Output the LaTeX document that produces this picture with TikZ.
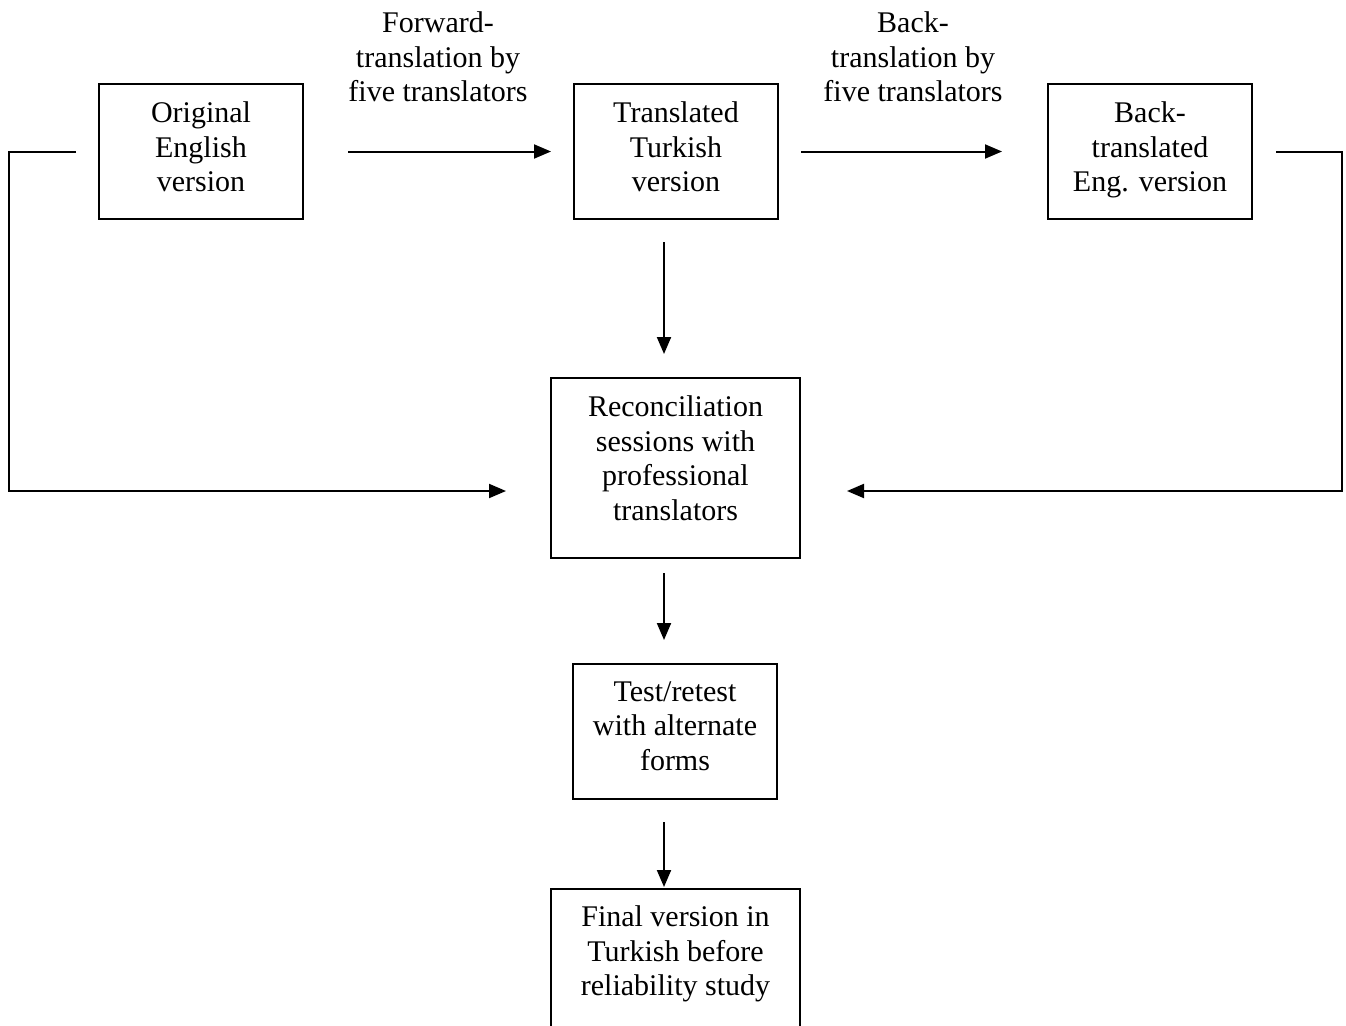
\documentclass[tikz,border=0pt]{standalone}
\usepackage{fontspec}
\setmainfont{Liberation Serif}
\usetikzlibrary{arrows.meta}
\begin{document}
\begin{tikzpicture}[x=1pt,y=-1pt,
  box/.style={draw,line width=2pt,minimum width=204pt,minimum height=135pt,inner sep=0pt},
  widebox/.style={box,minimum width=249pt},
  txt/.style={align=center,font=\fontsize{30}{34.5}\selectfont,inner sep=0pt},
  arr/.style={line width=2pt,-{Triangle[length=17pt,width=14pt]}},
  plain/.style={line width=2pt}]
\clip (0,0) rectangle (1346,1025);
\fill[white] (0,0) rectangle (1346,1025);
% boxes
\node[box] (orig) at (201,151.5) {};
\node[box] (tt) at (676,151.5) {};
\node[box] (bt) at (1150,151.5) {};
\node[widebox,minimum height=180pt] (rec) at (675.5,468) {};
\node[box] (test) at (675,731.5) {};
\node[widebox,minimum height=180pt] (fin) at (675.5,979) {};
% texts
\node[txt] (origt) at (201,147) {Original\\English\\version};
\node[txt] (ttt) at (676,147) {Translated\\Turkish\\version};
\node[txt] (btt) at (1150,150) {Back-\\translated\\Eng. version};
\node[txt] (rect) at (675.5,458) {Reconciliation\\sessions with\\professional\\translators};
\node[txt] (testt) at (675,726) {Test/retest\\with alternate\\forms};
\node[txt] (fint) at (675.5,954) {Final version in\\Turkish before\\reliability study};
\node[txt] (fwd) at (438,57) {Forward-\\translation by\\five translators};
\node[txt] (bck) at (913,57) {Back-\\translation by\\five translators};
% horizontal arrows
\draw[arr,shorten <=44pt,shorten >=22pt] (orig.east) -- (tt.west);
\draw[arr,shorten <=22pt,shorten >=45pt] (tt.east) -- (bt.west);
% loops
\coordinate (l1) at (9,151.5);
\coordinate (l2) at (9,491);
\coordinate (r1) at (1342,151.5);
\coordinate (r2) at (1342,491);
\draw[arr,shorten >=44pt] ([xshift=-22pt]orig.west) -- (l1) -- (l2) -- (rec.west |- l2);
\draw[arr,shorten >=46pt] ([xshift=23pt]bt.east) -- (r1) -- (r2) -- (rec.east |- r2);
% verticals
\draw[arr,shorten <=22pt,shorten >=23pt] ([xshift=-12pt]tt.south) -- ([xshift=-11.5pt]rec.north);
\draw[arr,shorten <=14pt,shorten >=23pt] ([xshift=-11.5pt]rec.south) -- ([xshift=-11pt]test.north);
\draw[arr,shorten <=22pt,shorten >=1pt] ([xshift=-11pt]test.south) -- ([xshift=-11.5pt]fin.north);
\end{tikzpicture}
\end{document}
